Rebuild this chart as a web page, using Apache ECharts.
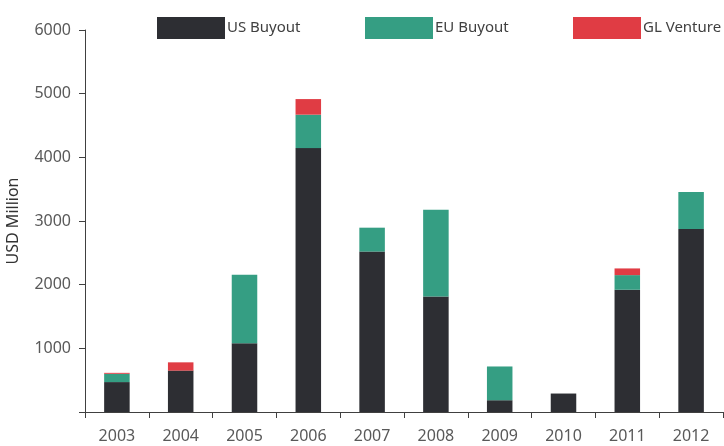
<!DOCTYPE html>
<html>
<head>
<meta charset="utf-8">
<script src="https://cdn.jsdelivr.net/npm/echarts@6/dist/echarts.min.js"></script>
<style>
  html, body { margin: 0; padding: 0; background: #fff; }
  #main { width: 724px; height: 446px; }
</style>
</head>
<body>
<div id="main"></div>
<script>
// values, USD million
var years = ['2003', '2004', '2005', '2006', '2007', '2008', '2009', '2010', '2011', '2012'];
var usBuyout = [470, 650, 1080, 4145, 2520, 1815, 185, 290, 1920, 2875];
var euBuyout = [130, 0, 1075, 525, 375, 1360, 530, 0, 230, 580];
var glVenture = [15, 130, 0, 245, 0, 0, 0, 0, 105, 0];

var names = ['US Buyout', 'EU Buyout', 'GL Venture'];
var colors = ['#2d2e33', '#359e83', '#e03c44'];
var textColor = '#595959';
var font = 'Noto Sans';

var chart = echarts.init(document.getElementById('main'));

function legendFor(name, left) {
  return {
    data: [name],
    left: left,
    top: 12,
    itemWidth: 68,
    itemHeight: 22,
    itemGap: 0,
    icon: 'rect',
    textStyle: { color: '#404040', fontSize: 15, fontFamily: font, padding: [0, 0, 0, -3] }
  };
}

var option = {
  animation: false,
  color: colors,
  legend: [
    legendFor(names[0], 152),
    legendFor(names[1], 360),
    legendFor(names[2], 568)
  ],
  grid: { left: 85, right: 1, top: 30, bottom: 34, containLabel: false, outerBoundsMode: 'none' },
  xAxis: {
    type: 'category',
    data: years,
    axisLine: { lineStyle: { color: '#404040', width: 1 } },
    axisTick: { show: true, length: 6, lineStyle: { color: '#404040' } },
    axisLabel: { color: textColor, fontSize: 16, fontFamily: font, margin: 16 }
  },
  yAxis: {
    type: 'value',
    min: 0,
    max: 6000,
    interval: 1000,
    name: 'USD Million',
    nameLocation: 'middle',
    nameGap: 64,
    nameTextStyle: { color: '#333', fontSize: 16, fontFamily: font },
    axisLine: { show: true, lineStyle: { color: '#404040', width: 1 } },
    axisTick: { show: true, length: 6, lineStyle: { color: '#404040' } },
    splitLine: { show: false },
    axisLabel: {
      color: textColor, fontSize: 16, fontFamily: font, margin: 14,
      formatter: function (v) { return v === 0 ? '' : v; }
    }
  },
  series: [
    { name: names[0], type: 'bar', stack: 'total', barWidth: '40%', data: usBuyout },
    { name: names[1], type: 'bar', stack: 'total', barWidth: '40%', data: euBuyout },
    { name: names[2], type: 'bar', stack: 'total', barWidth: '40%', data: glVenture }
  ]
};

chart.setOption(option);
</script>
</body>
</html>
